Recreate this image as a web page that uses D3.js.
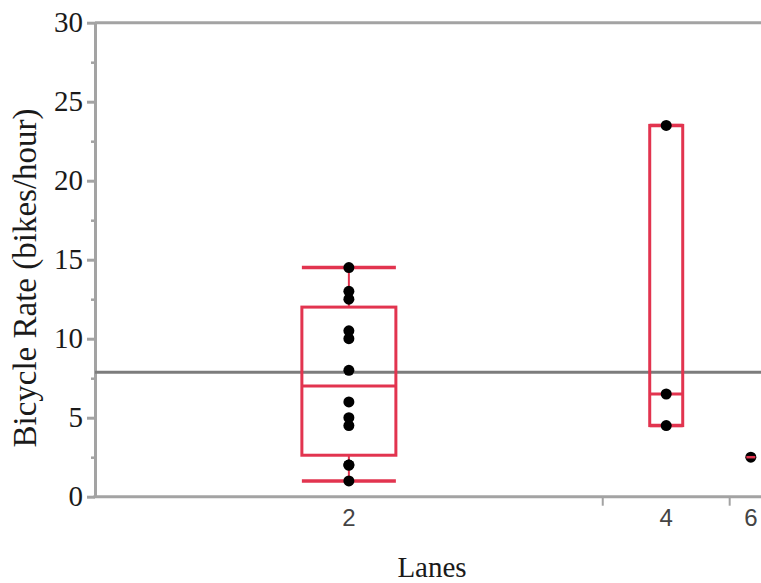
<!DOCTYPE html>
<html>
<head>
<meta charset="utf-8">
<script src="https://cdn.jsdelivr.net/npm/d3@7"></script>
<style>
  html, body { margin: 0; padding: 0; background: #fff; }
  svg { display: block; }
</style>
</head>
<body>
<svg id="chart" width="761" height="583"></svg>
<script>
// Bicycle rate observations grouped by number of lanes
const laneCategories = ["2", "4", "6"];
const laneRates2 = [1, 2, 2, 4.5, 5, 6, 8, 10, 10.5, 12.5, 13, 14.5];
const laneRates4 = [4.5, 6.5, 23.5];
const laneRates6 = [2.5];
const yTicks = [0, 5, 10, 15, 20, 25, 30];
const yMinorTicks = [2.5, 7.5, 12.5, 17.5, 22.5, 27.5];

const groups = [
  { lane: laneCategories[0], values: laneRates2 },
  { lane: laneCategories[1], values: laneRates4 },
  { lane: laneCategories[2], values: laneRates6 }
];

// Box widths in pixels per group (drawing style)
const boxWidthPx = { "2": 94, "4": 33, "6": 10 };

const svg = d3.select("#chart");
const red = "#e2344f";
const axisGray = "#a3a3a3";

// Quantile at probability p using the (n+1)p rule
function quantile(sorted, p) {
  const n = sorted.length;
  const pos = (n + 1) * p;
  if (pos <= 1) return sorted[0];
  if (pos >= n) return sorted[n - 1];
  const lo = Math.floor(pos);
  const frac = pos - lo;
  return sorted[lo - 1] + frac * (sorted[lo] - sorted[lo - 1]);
}

// x axis: each lane group gets width proportional to its count
let cum = 0;
groups.forEach(g => {
  g.start = cum;
  cum += g.values.length;
  g.end = cum;
  g.mid = (g.start + g.end) / 2;
  const s = g.values.slice().sort((a, b) => a - b);
  g.q1 = quantile(s, 0.25);
  g.med = quantile(s, 0.5);
  g.q3 = quantile(s, 0.75);
  const iqr = g.q3 - g.q1;
  g.whiskHi = d3.max(s.filter(v => v <= g.q3 + 1.5 * iqr));
  g.whiskLo = d3.min(s.filter(v => v >= g.q1 - 1.5 * iqr));
});
const total = cum;

const x = d3.scaleLinear().domain([0, total]).range([95, 772]);
const y = d3.scaleLinear().domain([0, 30]).range([496.7, 22.7]);

const allValues = groups.flatMap(g => g.values);
const grandMean = d3.mean(allValues);

// Top frame line
svg.append("line")
  .attr("x1", x(0)).attr("x2", x(total))
  .attr("y1", y(30)).attr("y2", y(30))
  .attr("stroke", axisGray).attr("stroke-width", 3);

// Minor y ticks
svg.append("g")
  .attr("transform", `translate(${x(0)},0)`)
  .call(d3.axisLeft(y).tickValues(yMinorTicks).tickSize(4).tickFormat("").tickSizeOuter(0))
  .call(g => g.select(".domain").remove())
  .call(g => g.selectAll("line").attr("stroke", axisGray).attr("stroke-width", 2.5));

// Major y axis
const yAxis = svg.append("g")
  .attr("transform", `translate(${x(0)},0)`)
  .call(d3.axisLeft(y).tickValues(yTicks).tickSize(8).tickPadding(4).tickSizeOuter(0));
yAxis.select(".domain").attr("stroke", axisGray).attr("stroke-width", 3);
yAxis.selectAll(".tick line").attr("stroke", axisGray).attr("stroke-width", 3);
yAxis.selectAll(".tick text")
  .attr("font-family", "'Liberation Serif', 'Times New Roman', serif")
  .attr("font-size", 29)
  .attr("fill", "#1a1a1a");

// x axis baseline
svg.append("line")
  .attr("x1", x(0) - 1.5).attr("x2", x(total))
  .attr("y1", y(0)).attr("y2", y(0))
  .attr("stroke", axisGray).attr("stroke-width", 3);

// Group boundary ticks
svg.selectAll("line.xbound")
  .data(groups.slice(0, -1))
  .join("line")
  .attr("class", "xbound")
  .attr("x1", d => x(d.end)).attr("x2", d => x(d.end))
  .attr("y1", y(0)).attr("y2", y(0) + 9)
  .attr("stroke", axisGray).attr("stroke-width", 2);

// Group labels
svg.selectAll("text.xlab")
  .data(groups)
  .join("text")
  .attr("class", "xlab")
  .attr("x", d => x(d.mid))
  .attr("y", 526)
  .attr("text-anchor", "middle")
  .attr("font-family", "'Liberation Sans', Arial, sans-serif")
  .attr("font-size", 24)
  .attr("fill", "#444")
  .text(d => d.lane);

// Grand mean line
svg.append("line")
  .attr("x1", x(0)).attr("x2", x(total))
  .attr("y1", y(grandMean)).attr("y2", y(grandMean))
  .attr("stroke", "#7c7c7c").attr("stroke-width", 3);

// Box plots
const box = svg.append("g");
groups.forEach(g => {
  const cx = x(g.mid);
  const w = boxWidthPx[g.lane];
  const gg = box.append("g");
  if (g.values.length > 1) {
    // whiskers
    gg.append("line")
      .attr("x1", cx).attr("x2", cx)
      .attr("y1", y(g.q3)).attr("y2", y(g.whiskHi))
      .attr("stroke", red).attr("stroke-width", 2);
    gg.append("line")
      .attr("x1", cx).attr("x2", cx)
      .attr("y1", y(g.q1)).attr("y2", y(g.whiskLo))
      .attr("stroke", red).attr("stroke-width", 2);
    // caps
    [g.whiskHi, g.whiskLo].forEach(v => {
      gg.append("line")
        .attr("x1", cx - w / 2).attr("x2", cx + w / 2)
        .attr("y1", y(v)).attr("y2", y(v))
        .attr("stroke", red).attr("stroke-width", 3.5);
    });
    // box
    gg.append("rect")
      .attr("x", cx - w / 2).attr("width", w)
      .attr("y", y(g.q3)).attr("height", y(g.q1) - y(g.q3))
      .attr("fill", "none")
      .attr("stroke", red).attr("stroke-width", 3);
  }
  // median
  gg.append("line")
    .attr("x1", cx - w / 2).attr("x2", cx + w / 2)
    .attr("y1", y(g.med)).attr("y2", y(g.med))
    .attr("stroke", red).attr("stroke-width", 3);
});

// Observations
const pts = groups.flatMap(g => g.values.map(v => ({ g, v })));
svg.append("g")
  .selectAll("circle")
  .data(pts)
  .join("circle")
  .attr("cx", d => x(d.g.mid))
  .attr("cy", d => y(d.v))
  .attr("r", 5.5)
  .attr("fill", "#000");

// Single-observation group marker line drawn over its point
groups.filter(g => g.values.length === 1).forEach(g => {
  svg.append("line")
    .attr("x1", x(g.mid) - 4.5).attr("x2", x(g.mid) + 4.5)
    .attr("y1", y(g.med)).attr("y2", y(g.med))
    .attr("stroke", red).attr("stroke-width", 2.5);
});

// Axis titles
svg.append("text")
  .attr("transform", `translate(36,278) rotate(-90)`)
  .attr("text-anchor", "middle")
  .attr("font-family", "'Liberation Serif', 'Times New Roman', serif")
  .attr("font-size", 33)
  .attr("fill", "#1a1a1a")
  .text("Bicycle Rate (bikes/hour)");

svg.append("text")
  .attr("x", 432)
  .attr("y", 577)
  .attr("text-anchor", "middle")
  .attr("font-family", "'Liberation Serif', 'Times New Roman', serif")
  .attr("font-size", 29)
  .attr("fill", "#1a1a1a")
  .text("Lanes");
</script>
</body>
</html>
